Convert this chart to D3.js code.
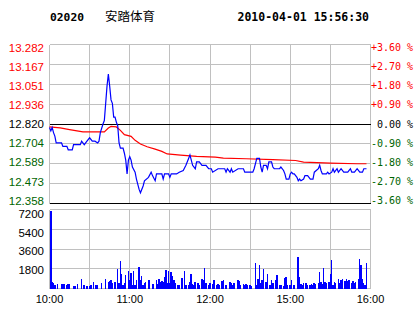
<!DOCTYPE html>
<html>
<head>
<meta charset="utf-8">
<script src="https://cdn.jsdelivr.net/npm/d3@7"></script>
<style>
  body { margin: 0; background: #fff; }
  svg { display: block; }
</style>
</head>
<body>
<svg id="chart"></svg>
<script>
// header
const stockCode = "02020";
const stockName = "安踏体育";
const stamp = "2010-04-01 15:56:30";

// axis values
const prevClose = 12.82;
const priceTicks = [13.282, 13.167, 13.051, 12.936, 12.820, 12.704, 12.589, 12.473, 12.358];
const pctTicks = ["+3.60 %", "+2.70 %", "+1.80 %", "+0.90 %", " 0.00 %", "-0.90 %", "-1.80 %", "-2.70 %", "-3.60 %"];
const volTicks = [7200, 5400, 3600, 1800];
const timeTicks = [0, 60, 120, 180, 240];
const timeLabels = ["10:00", "11:00", "12:00", "15:00", "16:00"];

// price (minutes since open, trading time only)
const priceTimes = [0,1,2,3,4,5,9,10,13,14,17,18,23,24,26,28,30,32,34,36,37,38,40,41,42,43,44,45,46,47,48,49,50,51,52,53,55,56,57,58,59,60,61,62,64,65,67,68,70,71,74,76,77,79,80,84,85,86,89,90,91,95,97,100,102,104,105,107,109,110,112,114,117,119,121,122,126,131,132,133,135,136,137,141,145,146,152,153,155,156,157,158,159,160,162,163,164,166,167,168,172,173,175,176,177,179,180,181,182,183,185,186,187,188,190,191,193,195,197,198,201,202,203,204,207,208,209,211,212,213,215,216,218,220,223,225,226,228,230,232,234,235,237];
const priceValues = [12.80,12.78,12.80,12.77,12.75,12.71,12.71,12.69,12.69,12.67,12.67,12.70,12.70,12.72,12.70,12.72,12.74,12.72,12.72,12.71,12.72,12.77,12.82,12.84,12.94,13.04,13.11,13.04,12.96,12.94,12.86,12.86,12.83,12.81,12.71,12.68,12.68,12.65,12.61,12.53,12.61,12.63,12.61,12.57,12.54,12.50,12.44,12.42,12.46,12.49,12.51,12.54,12.52,12.49,12.53,12.53,12.50,12.53,12.53,12.51,12.53,12.53,12.54,12.55,12.58,12.62,12.64,12.58,12.56,12.60,12.60,12.58,12.58,12.56,12.56,12.54,12.56,12.56,12.54,12.56,12.54,12.56,12.54,12.56,12.56,12.54,12.54,12.56,12.62,12.62,12.62,12.57,12.54,12.58,12.58,12.56,12.60,12.60,12.57,12.56,12.56,12.57,12.55,12.53,12.50,12.50,12.53,12.54,12.53,12.53,12.51,12.49,12.50,12.49,12.50,12.52,12.52,12.50,12.50,12.54,12.56,12.58,12.55,12.53,12.53,12.54,12.53,12.54,12.56,12.54,12.56,12.54,12.56,12.54,12.54,12.56,12.54,12.54,12.56,12.54,12.54,12.56,12.56];

// average price
const avgTimes = [0,8,15,25,41,44,46,50,53,56,61,64,68,73,79,84,88,98,110,124,130,147,167,184,190,210,230,237];
const avgValues = [12.803,12.797,12.787,12.774,12.774,12.797,12.806,12.803,12.783,12.758,12.748,12.725,12.704,12.688,12.674,12.661,12.646,12.639,12.632,12.628,12.622,12.618,12.613,12.608,12.599,12.593,12.589,12.589];

// volume
const volTimes = [0,1,2,3,5,8,9,10,12,13,14,17,18,20,23,25,27,29,30,32,34,35,38,41,43,44,45,46,48,50,51,52,53,54,55,56,58,59,60,61,62,63,64,66,67,68,69,70,71,73,74,76,77,79,80,81,82,83,84,85,86,87,88,89,90,91,92,93,95,96,98,100,101,103,104,105,106,107,108,110,111,113,114,115,116,118,119,121,122,124,125,126,128,129,131,134,135,136,137,140,141,142,144,145,146,147,149,150,153,154,155,156,157,158,159,161,162,164,165,166,168,169,171,172,174,175,176,177,179,180,182,185,186,187,188,189,191,192,194,195,196,197,198,200,201,202,203,204,205,206,208,209,210,211,212,213,215,216,217,218,220,221,222,223,225,226,227,228,230,231,232,233,234,235,236];
const volValues = [7070,610,460,300,400,400,400,400,300,400,400,210,210,370,850,300,240,210,300,610,300,300,460,850,550,670,760,460,610,1770,460,2500,1310,300,460,1220,1580,760,1430,300,1580,300,760,1950,760,1130,300,460,610,760,760,370,400,760,370,910,610,640,610,1010,1680,460,1610,460,1520,1130,760,460,300,300,970,1580,300,300,610,1310,400,300,610,460,300,850,760,1860,460,300,460,400,820,300,400,300,700,760,300,550,520,300,460,760,670,300,400,300,400,300,300,240,2350,300,880,2130,460,820,1770,610,1310,300,760,460,760,1220,300,300,210,970,1040,300,300,820,300,2860,1010,400,300,460,520,300,300,400,300,460,400,520,1520,610,370,1860,610,460,610,1310,2590,300,610,460,850,460,760,850,700,850,670,760,460,670,460,610,910,2680,2130,910,460,300,2350];

const width = 414;
const height = 314;

const svg = d3.select("#chart")
    .attr("width", width)
    .attr("height", height);

const x = d3.scaleLinear().domain([0, 240]).range([49.5, 370.5]);
const y = d3.scaleLinear().domain([12.358, 13.282]).range([203.5, 44.5]);
const yLabel = d3.scaleLinear().domain([12.358, 13.282]).range([200.5, 47.5]);
const v = d3.scaleLinear().domain([0, 7200]).range([288.5, 209.5]);
const vLabel = d3.scaleLinear().domain([1800, 7200]).range([270, 214]);

const green = "#006400";
const tickColor = p => Math.abs(p - prevClose) < 0.001 ? "#000" : (p > prevClose ? "#ff0000" : green);

// header
svg.append("text")
    .attr("x", 50).attr("y", 20.5)
    .style("font", "bold 11.3px 'DejaVu Sans Mono'")
    .text(stockCode);
svg.append("text")
    .attr("x", 105).attr("y", 20.5)
    .style("font", "12.5px 'Noto Sans CJK SC'")
    .text(stockName);
svg.append("text")
    .attr("x", 237.5).attr("y", 20.5)
    .style("font", "bold 11.5px 'DejaVu Sans Mono'")
    .text(stamp);

// grid
const grid = svg.append("g").attr("shape-rendering", "crispEdges");
const halfHours = d3.range(0, 241, 30);

grid.selectAll(".vp").data(halfHours).enter().append("line")
    .attr("x1", d => x(d)).attr("x2", d => x(d))
    .attr("y1", y(13.282)).attr("y2", y(12.358))
    .attr("stroke", "#c0c0c0");
grid.selectAll(".hp").data(priceTicks).enter().append("line")
    .attr("x1", x(0)).attr("x2", x(240))
    .attr("y1", d => y(d)).attr("y2", d => y(d))
    .attr("stroke", (d, i) => (d === 12.820 || i === priceTicks.length - 1) ? "#000" : "#c0c0c0");

grid.selectAll(".vv").data(halfHours).enter().append("line")
    .attr("x1", d => x(d)).attr("x2", d => x(d))
    .attr("y1", v(7200)).attr("y2", v(0))
    .attr("stroke", "#c0c0c0");
grid.selectAll(".hv").data([7200, 5400, 3600, 1800, 0]).enter().append("line")
    .attr("x1", x(0)).attr("x2", x(240))
    .attr("y1", d => v(d)).attr("y2", d => v(d))
    .attr("stroke", "#c0c0c0");

// left price labels
svg.selectAll(".pl").data(priceTicks).enter().append("text")
    .attr("x", 44).attr("y", d => yLabel(d))
    .attr("dy", "0.36em")
    .attr("text-anchor", "end")
    .attr("fill", d => tickColor(d))
    .style("font", "11.5px 'Liberation Sans'")
    .text(d => d.toFixed(3));

// right percent labels
svg.selectAll(".rl").data(priceTicks).enter().append("text")
    .attr("x", 371).attr("y", d => yLabel(d))
    .attr("dy", "0.36em")
    .attr("fill", d => tickColor(d))
    .style("font", "10px 'DejaVu Sans Mono'")
    .style("white-space", "pre")
    .text((d, i) => pctTicks[i]);

// volume labels
svg.selectAll(".vl").data(volTicks).enter().append("text")
    .attr("x", 44).attr("y", d => vLabel(d))
    .attr("dy", "0.36em")
    .attr("text-anchor", "end")
    .style("font", "11.5px 'Liberation Sans'")
    .text(d => d);

// time labels
svg.selectAll(".tl").data(timeTicks).enter().append("text")
    .attr("x", d => x(d)).attr("y", 299)
    .attr("dy", "0.36em")
    .attr("text-anchor", "middle")
    .style("font", "11px 'Liberation Sans'")
    .text((d, i) => timeLabels[i]);

// volume bars
svg.append("g").attr("shape-rendering", "crispEdges")
    .selectAll("rect").data(volTimes).enter().append("rect")
    .attr("x", d => x(d) + 0.5)
    .attr("width", 1.5)
    .attr("y", (d, i) => v(volValues[i]))
    .attr("height", (d, i) => v(0) - v(volValues[i]))
    .attr("fill", "#0000ff");

// average and price lines
const avgLine = d3.line()
    .x((d, i) => x(avgTimes[i]))
    .y(d => y(d));
svg.append("path")
    .datum(avgValues)
    .attr("d", avgLine)
    .attr("fill", "none")
    .attr("stroke", "#ff0000")
    .attr("stroke-width", 1.2);

const priceLine = d3.line()
    .x((d, i) => x(priceTimes[i]))
    .y(d => y(d));
svg.append("path")
    .datum(priceValues)
    .attr("d", priceLine)
    .attr("fill", "none")
    .attr("stroke", "#0000ff")
    .attr("stroke-width", 1.2);
</script>
</body>
</html>
